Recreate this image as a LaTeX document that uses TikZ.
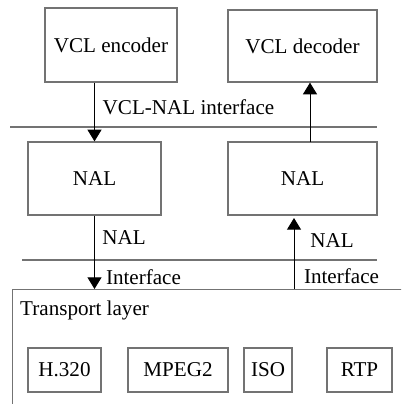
\documentclass[tikz,border=0pt]{standalone}
\usepackage{fontspec}
\setmainfont{Liberation Serif}
\usetikzlibrary{arrows.meta,positioning}
\definecolor{boxgray}{gray}{0.45}

\begin{document}
\begin{tikzpicture}[x=0.03cm,y=-0.03cm,font=\fontsize{18}{21}\selectfont,
	box/.style={draw=boxgray,line width=1.1pt,inner sep=0pt},
	sep/.style={draw=boxgray,line width=1.1pt},
	flow/.style={-{Triangle[width=12pt,length=10pt]},line width=0.8pt}]
	\useasboundingbox (0,0) rectangle (401,404);
	\clip (0,0) rectangle (401,404);

	\node[box,minimum width=3.96cm,minimum height=2.22cm] (enc) at (111,45) {VCL encoder};
	\node[box,minimum width=4.47cm,minimum height=2.16cm] (dec) at (302.5,46) {VCL decoder};
	\node[box,minimum width=3.99cm,minimum height=2.19cm] (nalL) at (94.5,178.5) {NAL};
	\node[box,minimum width=4.47cm,minimum height=2.19cm] (nalR) at (302.5,178.5) {NAL};

	\node[box,anchor=north west,minimum width=12cm,minimum height=3.9cm] (tl) at (12,289) {};
	\node[anchor=west,inner sep=0pt] (tlname) at (20,310) {Transport layer};
	\node[box,minimum width=2.19cm,minimum height=1.32cm] (h320) at (64.5,370) {H.320};
	\node[box,minimum width=3.0cm,minimum height=1.32cm] (mpeg) at (178,370) {MPEG2};
	\node[box,minimum width=1.44cm,minimum height=1.32cm] (iso) at (268,370) {ISO};
	\node[box,minimum width=1.95cm,minimum height=1.32cm] (rtp) at (359.5,370) {RTP};

	% layer borders
	\coordinate (s1a) at (10,127);
	\coordinate (s1b) at (377,127);
	\coordinate (s2a) at (22,260);
	\coordinate (s2b) at (377,260);
	\path [sep] (s1a) edge (s1b);
	\path [sep] (s2a) edge (s2b);

	\node (vni) at (188.5,107) {VCL-NAL interface};
	\node (nal1) at (124,238) {NAL};
	\node (if1) at (143.5,277) {Interface};
	\node (nal2) at (332,241) {NAL};
	\node (if2) at (341.5,276) {Interface};

	\coordinate (rup) at (310,142);
	\coordinate (rlow) at (294,218);
	\draw [flow] (nalL.north |- enc.south) -- (nalL.north);
	\draw [flow] (rup) -- (rup |- dec.south);
	\draw [flow] (nalL.south) -- (nalL.south |- tl.north);
	\draw [flow] (rlow |- tl.north) -- (rlow);
\end{tikzpicture}
\end{document}
